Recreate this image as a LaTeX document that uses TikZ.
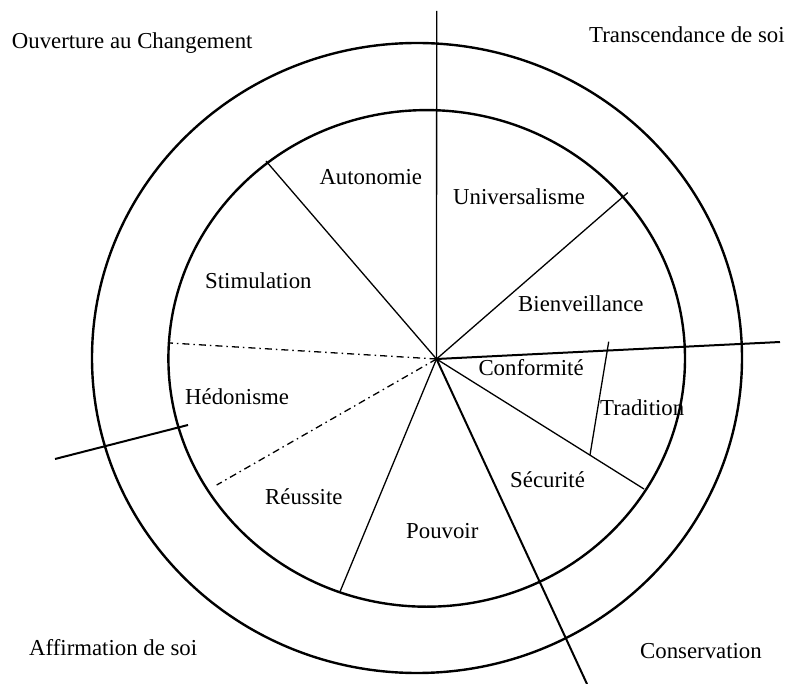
\documentclass[tikz,border=0pt]{standalone}
\usepackage{fontspec}
\setmainfont{Liberation Serif}
\begin{document}
\begin{tikzpicture}[x=1pt,y=-1pt,
  ring/.style={line width=2.4pt},
  spoke/.style={line width=1.3pt},
  axis/.style={line width=2pt},
  dashdot/.style={line width=1.3pt, dash pattern=on 7pt off 4pt on 1.5pt off 4pt},
  lbl/.style={anchor=base west, inner sep=0pt, font=\fontsize{22.8}{27}\selectfont}]
\useasboundingbox (0,0) rectangle (787,684);

% rings
\draw[ring] (417,358) ellipse [x radius=325pt, y radius=315pt];
\draw[ring] (426.7,358.4) ellipse [x radius=258.3pt, y radius=248.3pt];

% hub and spoke ends
\coordinate (O) at (436.5,359);
\coordinate (top) at (436.7,11);
\coordinate (east) at (780,342);
\coordinate (sse) at (587,684);
\coordinate (wA) at (55,459);
\coordinate (wB) at (188,425);
\coordinate (autS) at (266,161);
\coordinate (uniB) at (627.7,192.7);
\coordinate (conS) at (644,489);
\coordinate (traA) at (608.7,341.7);
\coordinate (traB) at (590,455);
\coordinate (pouR) at (340,591.7);
\coordinate (hedA) at (170,343);
\coordinate (hedB) at (216.7,485);

% main axes
\draw[spoke] (O) -- (top);
\draw[axis] (O) -- (east);
\draw[axis] (O) -- (sse);
\draw[axis] (wA) -- (wB);

% sector boundaries
\draw[spoke] (O) -- (autS);
\draw[spoke] (O) -- (uniB);
\draw[spoke] (O) -- (conS);
\draw[spoke] (traA) -- (traB);
\draw[spoke] (O) -- (pouR);
\draw[dashdot] (O) -- (hedA);
\draw[dashdot] (O) -- (hedB);

% higher-order values
\node[lbl] (ouv) at (11.7,49) {Ouverture au Changement};
\node[lbl] (tra) at (589,43) {Transcendance de soi};
\node[lbl] (aff) at (29,655) {Affirmation de soi};
\node[lbl] (cons) at (640,658) {Conservation};

% basic values
\node[lbl] (aut) at (319.3,185) {Autonomie};
\node[lbl] (uni) at (453,205) {Universalisme};
\node[lbl] (sti) at (205,288.3) {Stimulation};
\node[lbl] (bie) at (518,311.7) {Bienveillance};
\node[lbl] (conf) at (478.3,376) {Conformité};
\node[lbl] (trad) at (600,415) {Tradition};
\node[lbl] (hed) at (185,404.3) {Hédonisme};
\node[lbl] (sec) at (510,487.3) {Sécurité};
\node[lbl] (reu) at (265,504.3) {Réussite};
\node[lbl] (pou) at (406,538.3) {Pouvoir};
\end{tikzpicture}
\end{document}
